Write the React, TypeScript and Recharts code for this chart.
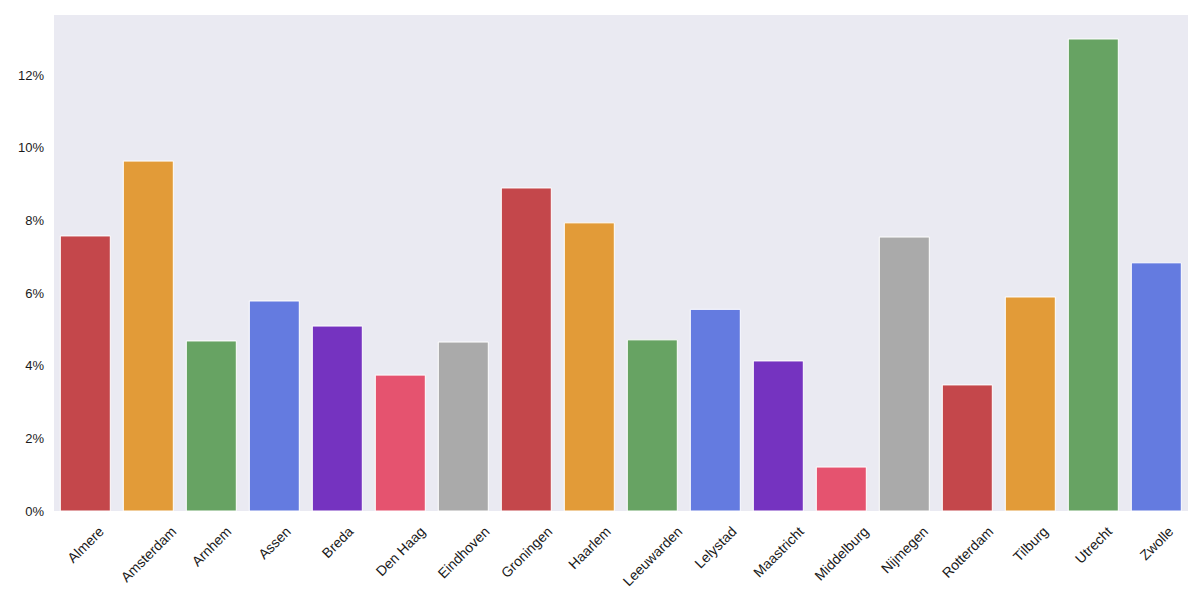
import { BarChart, Bar, Cell, XAxis, YAxis, CartesianGrid } from 'recharts';

const cities = [
  'Almere', 'Amsterdam', 'Arnhem', 'Assen', 'Breda', 'Den Haag', 'Eindhoven',
  'Groningen', 'Haarlem', 'Leeuwarden', 'Lelystad', 'Maastricht', 'Middelburg',
  'Nijmegen', 'Rotterdam', 'Tilburg', 'Utrecht', 'Zwolle',
];

const shares = [
  7.57, 9.63, 4.68, 5.78, 5.09, 3.74, 4.65, 8.89, 7.93, 4.71, 5.55, 4.13, 1.21,
  7.54, 3.47, 5.89, 12.99, 6.83,
];

const yTicks = [0, 2, 4, 6, 8, 10, 12];

const COLORS = [
  '#c4474b', '#e29b38', '#67a363', '#647be0', '#7533c0', '#e5536f', '#aaaaaa',
];

const data = cities.map((name, i) => ({ name, value: shares[i] }));

const FONT = '"Liberation Sans", Arial, sans-serif';
const XFS = 14;

let ctx: CanvasRenderingContext2D | null = null;
const textWidth = (s: string) => {
  if (!ctx) ctx = document.createElement('canvas').getContext('2d');
  if (!ctx) return s.length * 7.5;
  ctx.font = `${XFS}px ${FONT}`;
  return ctx.measureText(s).width;
};

// matplotlib-style 45° label, centered under the tick
const CityTick = (props: any) => {
  const { x, y, payload } = props;
  const w = textWidth(payload.value);
  const cy = y + 5 + (w + XFS) * 0.3536;
  return (
    <text
      x={x}
      y={cy}
      textAnchor="middle"
      dominantBaseline="central"
      transform={`rotate(-45, ${x}, ${cy})`}
      fill="#1a1a1a"
      fontSize={XFS}
      fontFamily={FONT}
    >
      {payload.value}
    </text>
  );
};

export default function App() {
  return (
    <div style={{ position: 'absolute', left: 0, top: 0, background: '#fff' }}>
      <BarChart
        width={1200}
        height={600}
        data={data}
        margin={{ top: 15, right: 12, left: 0, bottom: 0 }}
        barCategoryGap="10%"
      >
        <rect x={54} y={15} width={1134} height={496} fill="#eaeaf2" />
        <CartesianGrid vertical={false} stroke="#ffffff" strokeWidth={1} />
        <XAxis
          dataKey="name"
          height={89}
          axisLine={false}
          tickLine={false}
          interval={0}
          tick={<CityTick />}
        />
        <YAxis
          width={54}
          domain={[0, 13.65]}
          ticks={yTicks}
          axisLine={false}
          tickLine={false}
          tickSize={4}
          tickMargin={6}
          tickFormatter={(v: number) => `${v}%`}
          tick={{ fill: '#1a1a1a', fontSize: 13, fontFamily: FONT }}
        />
        <Bar dataKey="value" stroke="#ffffff" strokeWidth={1} isAnimationActive={false}>
          {data.map((entry, index) => (
            <Cell key={`cell-${index}`} fill={COLORS[index % COLORS.length]} />
          ))}
        </Bar>
      </BarChart>
    </div>
  );
}
